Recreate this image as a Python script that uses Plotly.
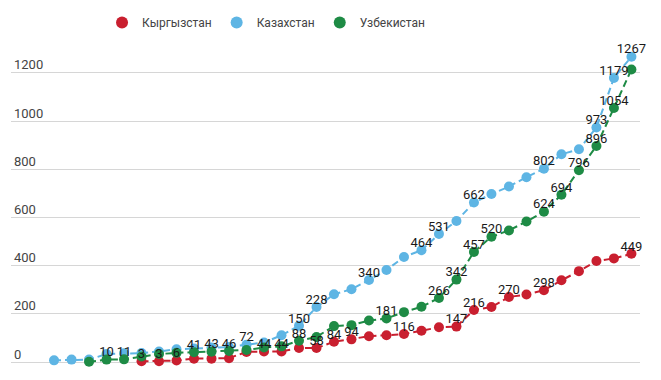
import plotly.graph_objects as go

dates = ["13.03", "14.03", "15.03", "16.03", "17.03", "18.03", "19.03", "20.03", "21.03",
         "22.03", "23.03", "24.03", "25.03", "26.03", "27.03", "28.03", "29.03", "30.03",
         "31.03", "01.04", "02.04", "03.04", "04.04", "05.04", "06.04", "07.04", "08.04",
         "09.04", "10.04", "11.04", "12.04", "13.04", "14.04", "15.04"]

kyrgyzstan = [None, None, None, None, None, 3, 3, 6, 14, 14, 16, 42, 44, 44, 58, 58, 84, 94,
              107, 111, 116, 130, 144, 147, 216, 228, 270, 280, 298, 339, 377, 419, 430, 449]
kazakhstan = [7, 10, 10, 33, 36, 37, 44, 53, 56, 60, 62, 72, 81, 111, 150, 228, 281, 302,
              340, 382, 436, 464, 531, 585, 662, 697, 728, 767, 802, 862, 883, 973, 1179, 1267]
uzbekistan = [None, None, 1, 10, 11, 23, 33, 38, 41, 43, 46, 50, 60, 65, 88, 104, 149, 153,
              172, 181, 207, 229, 266, 342, 457, 520, 546, 583, 624, 694, 796, 896, 1054, 1214]

kg_labeled = [5, 6, 7, 12, 13, 15, 16, 17, 20, 23, 24, 26, 28, 33]
kz_labeled = [11, 14, 15, 18, 21, 22, 24, 28, 31, 32, 33]
uz_labeled = [3, 4, 8, 9, 10, 14, 19, 22, 23, 24, 25, 28, 29, 30, 31, 32]

names = ["Кыргызстан", "Казахстан", "Узбекистан"]
colors = ["#c91f2f", "#5eb5e4", "#1e8b45"]
y_ticks = [0, 200, 400, 600, 800, 1000, 1200]

series = [kyrgyzstan, kazakhstan, uzbekistan]
labeled = [kg_labeled, kz_labeled, uz_labeled]

fig = go.Figure()

for name, vals, col in zip(names, series, colors):
    fig.add_trace(go.Scatter(
        x=dates, y=vals, mode="lines+markers", name=name, showlegend=False,
        line=dict(color=col, width=2, dash="7px,4px"),
        marker=dict(color=col, size=10),
        connectgaps=False, hoverinfo="skip", cliponaxis=False,
    ))

for name, vals, idx in zip(names, series, labeled):
    fig.add_trace(go.Scatter(
        x=[dates[i] for i in idx], y=[vals[i] for i in idx],
        text=[str(vals[i]) for i in idx],
        mode="text", textposition="top center", showlegend=False,
        textfont=dict(family="Roboto", size=13, color="#1a1a1a"),
        hoverinfo="skip", cliponaxis=False,
    ))

for name, col in zip(names, colors):
    fig.add_trace(go.Scatter(
        x=[None], y=[None], mode="markers", name=name,
        marker=dict(color=col, size=12),
    ))

fig.update_layout(
    template="none",
    width=653, height=372,
    margin=dict(l=3, r=21, t=0, b=10, pad=0),
    paper_bgcolor="white", plot_bgcolor="white",
    font=dict(family="Roboto", size=13, color="#444"),
    showlegend=True,
    legend=dict(orientation="h", x=0.1447, xanchor="left", y=0.9613, yanchor="middle",
                font=dict(family="Roboto", size=12, color="#444"),
                bgcolor="rgba(0,0,0,0)", borderwidth=0),
    xaxis=dict(type="category", range=[-2.46, 33.49], visible=False, automargin=False),
    yaxis=dict(range=[-33.1, 1464.8], tickvals=y_ticks, automargin=False,
               ticklabelposition="inside", ticklabelshift=-8, ticklabelstandoff=0,
               ticks="", showgrid=True, gridcolor="#d6d6d6", gridwidth=1,
               zeroline=False, showline=False,
               tickfont=dict(family="Roboto", size=13, color="#444")),
)

fig.write_html("out.html")
